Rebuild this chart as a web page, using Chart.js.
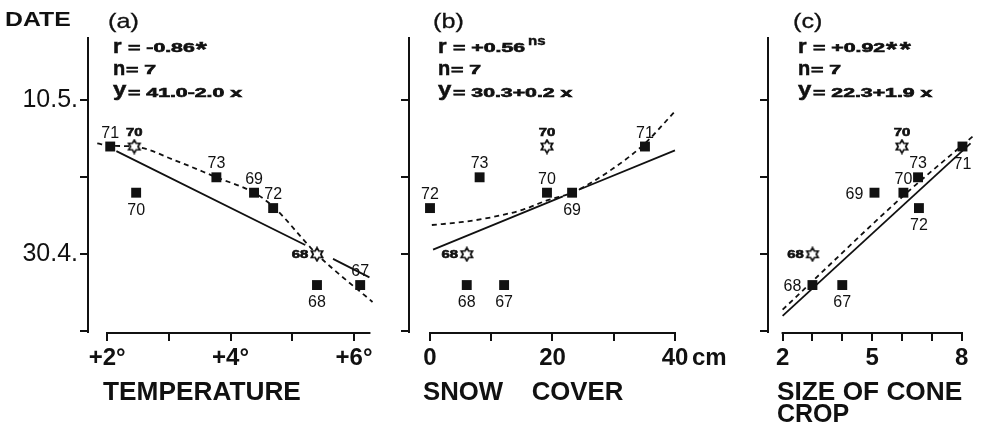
<!DOCTYPE html>
<html>
<head>
<meta charset="utf-8">
<script src="https://cdn.jsdelivr.net/npm/chart.js@4.4.1/dist/chart.umd.min.js"></script>
<style>
  html, body { margin: 0; padding: 0; background: #fff; }
  #wrap { position: relative; width: 984px; height: 428px; background: #fff; }
  #wrap canvas { position: absolute; left: 0; top: 0; }
</style>
</head>
<body>
<div id="wrap">
  <canvas id="chartA" width="984" height="428"></canvas>
  <canvas id="chartB" width="984" height="428"></canvas>
  <canvas id="chartC" width="984" height="428"></canvas>
</div>
<script>
// --- datos: fecha en días desde el 1 de abril (30.4. = 30, 10.5. = 40) ---
const dateTicks = [25, 30, 35, 40];
const dateTickLabels = ['', '30.4.', '', '10.5.'];

// (a) temperatura
const tempYears = ['71', '70', '73', '69', '72', '68', '67'];
const tempX = [2.05, 2.47, 3.77, 4.38, 4.69, 5.40, 6.10];
const tempDate = [37, 34, 35, 34, 33, 28, 28];
const tempSide = ['above', 'below', 'above', 'above', 'above', 'below', 'above'];
const tempStarYears = ['70', '68'];
const tempStarX = [2.44, 5.40];
const tempStarDate = [37, 30];
const tempStarSide = ['above', 'left'];
const tempFitX = [2.15, 5.21, 5.43, 5.66, 6.25];
const tempFitDate = [36.7, 30.6, null, 29.7, 28.5];
const tempCurveX = [1.84, 2.05, 2.44, 3.1, 3.77, 4.38, 4.69, 5.4, 6.3];
const tempCurveDate = [37.2, 37.05, 37.0, 36.1, 35.0, 34.0, 33.1, 30.0, 26.9];
const tempTicks = [2, 3, 4, 5, 6];
const tempTickLabels = ['+2°', '', '+4°', '', '+6°'];

// (b) nieve
const snowYears = ['72', '73', '70', '69', '71', '68', '67'];
const snowX = [0, 8.1, 19.1, 23.2, 35.1, 6.0, 12.1];
const snowDate = [33, 35, 34, 34, 37, 28, 28];
const snowSide = ['above', 'above', 'above', 'below', 'above', 'below', 'below'];
const snowStarYears = ['70', '68'];
const snowStarX = [19.1, 6.0];
const snowStarDate = [37, 30];
const snowStarSide = ['above', 'left'];
const snowFitX = [0.5, 21.7, 23.0, 24.3, 40];
const snowFitDate = [30.3, 33.76, null, 34.19, 36.75];
const snowCurveX = [0.3, 5.4, 10, 15.2, 19.1, 23.2, 30, 35.1, 39.8];
const snowCurveDate = [31.9, 32.1, 32.4, 32.9, 33.5, 34.0, 35.6, 37.2, 39.2];
const snowTicks = [0, 10, 20, 30, 40];
const snowTickLabels = ['0', '', '20', '', '40'];

// (c) cosecha de conos
const coneYears = ['71', '73', '70', '69', '72', '68', '67'];
const coneX = [8.03, 6.54, 6.05, 5.08, 6.57, 3.0, 4.0];
const coneDate = [37, 35, 34, 34, 33, 28, 28];
const coneSide = ['below', 'above', 'above', 'left', 'below', 'left', 'below'];
const coneStarYears = ['70', '68'];
const coneStarX = [6.0, 3.0];
const coneStarDate = [37, 30];
const coneStarSide = ['above', 'left'];
const coneFitX = [2.0, 8.3];
const coneFitDate = [26.0, 37.2];
const coneCurveX = [2.0, 6.05, 8.4];
const coneCurveDate = [26.4, 33.8, 37.7];
const coneTicks = [2, 3, 4, 5, 6, 7, 8];
const coneTickLabels = ['2', '', '', '5', '', '', '8'];

// textos de cabecera
const panelTags = ['(a)', '(b)', '(c)'];
const corrR = ['-0.86', '+0.56', '+0.92'];
const corrSig = ['*', 'ns', '**'];
const sampleN = ['7', '7', '7'];
const fitEq = ['41.0-2.0 x', '30.3+0.2 x', '22.3+1.9 x'];

const FONT = "'Liberation Sans', Arial, Helvetica, sans-serif";
const INK = '#111';
Chart.defaults.font.family = FONT;
Chart.defaults.color = INK;

function pts(xs, ys) {
    return xs.map((x, i) => ({ x: x, y: ys[i] }));
}

// texto con estiramiento horizontal (la tipografía original es muy ancha)
function wideText(ctx, text, x, y, font, sx, align, heavy) {
    ctx.save();
    ctx.font = font;
    ctx.fillStyle = INK;
    ctx.strokeStyle = INK;
    ctx.textBaseline = 'alphabetic';
    ctx.textAlign = align || 'left';
    ctx.translate(x, y);
    ctx.scale(sx, 1);
    ctx.fillText(text, 0, 0);
    if (heavy) {
        ctx.lineWidth = heavy;
        ctx.strokeText(text, 0, 0);
    }
    const w = ctx.measureText(text).width * sx;
    ctx.restore();
    return w;
}

// estrella de seis puntas hueca
function makeStar() {
    const c = document.createElement('canvas');
    c.width = 16; c.height = 16;
    const g = c.getContext('2d');
    g.beginPath();
    for (let k = 0; k < 12; k++) {
        const r = k % 2 === 0 ? 6.5 : 3.75;
        const a = -Math.PI / 2 + k * Math.PI / 6;
        const px = 8 + r * Math.cos(a), py = 8 + r * Math.sin(a);
        if (k === 0) g.moveTo(px, py); else g.lineTo(px, py);
    }
    g.closePath();
    g.fillStyle = '#fff';
    g.fill();
    g.lineWidth = 1.7;
    g.strokeStyle = INK;
    g.stroke();
    return c;
}
const starImg = makeStar();

// etiquetas de año junto a cada punto
const yearLabelPlugin = {
    id: 'yearLabels',
    afterDatasetsDraw(chart) {
        const ctx = chart.ctx;
        chart.data.datasets.forEach((ds, i) => {
            if (!ds.years) return;
            const meta = chart.getDatasetMeta(i);
            meta.data.forEach((el, j) => {
                const side = ds.sides[j];
                let dx = 0, dy = 0;
                if (side === 'above') dy = -15;
                if (side === 'below') dy = 16;
                if (side === 'left') dx = ds.isStar ? -17 : -20;
                if (ds.isStar) {
                    wideText(ctx, ds.years[j], el.x + dx, el.y + dy + 4, 'bold 11px ' + FONT, 1.35, 'center', 0.6);
                } else {
                    wideText(ctx, ds.years[j], el.x + dx, el.y + dy + 6, '16px ' + FONT, 1.0, 'center');
                }
            });
        });
    }
};

// eje x que empieza en el primer tick, cabecera y títulos
const panelPlugin = {
    id: 'panelText',
    afterDraw(chart, args, o) {
        const ctx = chart.ctx;
        const xs = chart.scales.x;
        const area = chart.chartArea;
        ctx.save();
        ctx.strokeStyle = INK;
        ctx.lineWidth = 2;
        ctx.beginPath();
        ctx.moveTo(xs.getPixelForValue(o.axisFrom) - 1, area.bottom + 1);
        ctx.lineTo(xs.getPixelForValue(o.axisTo) + 1, area.bottom + 1);
        ctx.stroke();
        ctx.restore();

        const i = o.index;
        const hx = area.left + o.headX;
        wideText(ctx, panelTags[i], hx - 5, 28, '21px ' + FONT, 1.2, 'left', 0.3);
        // r
        wideText(ctx, 'r', hx, 53, 'bold 20px ' + FONT, 1.1, 'left', 0.5);
        let w = wideText(ctx, '= ' + corrR[i], hx + 15, 52, 'bold 12.5px ' + FONT, 1.7, 'left', 0.6);
        if (corrSig[i] === 'ns') {
            wideText(ctx, 'ns', hx + 15 + w + 3, 45, 'bold 12px ' + FONT, 1.25, 'left', 0.4);
        } else {
            ctx.save();
            ctx.letterSpacing = '2px';
            wideText(ctx, corrSig[i], hx + 15 + w + 1, 56, 'bold 21px ' + FONT, 1.35, 'left', 0.6);
            ctx.restore();
        }
        // n
        wideText(ctx, 'n', hx, 75, 'bold 20px ' + FONT, 1.0, 'left', 0.5);
        wideText(ctx, '= ' + sampleN[i], hx + 13, 74, 'bold 12.5px ' + FONT, 1.7, 'left', 0.6);
        // y
        wideText(ctx, 'y', hx, 96, 'bold 20px ' + FONT, 1.2, 'left', 0.5);
        wideText(ctx, '= ' + fitEq[i], hx + 15, 97, 'bold 12.5px ' + FONT, 1.7, 'left', 0.6);

        o.titles.forEach(t => wideText(ctx, t.text, t.x, t.y, t.font, t.sx));
        if (o.unit) {
            wideText(ctx, o.unit, xs.getPixelForValue(o.unitAt) + 17, 365, 'bold 24px ' + FONT, 1.0);
        }
    }
};

function makePanel(id, cfg) {
    const datasets = [
        {
            data: pts(cfg.px, cfg.py),
            years: cfg.years, sides: cfg.sides,
            pointStyle: 'rect', pointRadius: 7, pointBackgroundColor: INK, pointBorderWidth: 0,
            showLine: false
        },
        {
            data: pts(cfg.sx, cfg.sy),
            years: cfg.starYears, sides: cfg.starSides, isStar: true,
            pointStyle: starImg, pointRadius: 8,
            showLine: false
        },
        {
            data: pts(cfg.fx, cfg.fy),
            showLine: true, pointRadius: 0, borderColor: INK, borderWidth: 1.8,
            spanGaps: false
        },
        {
            data: pts(cfg.cx, cfg.cy),
            showLine: true, pointRadius: 0, borderColor: INK, borderWidth: 1.8,
            borderDash: [5, 4], cubicInterpolationMode: 'monotone'
        }
    ];
    return new Chart(document.getElementById(id), {
        type: 'scatter',
        data: { datasets: datasets },
        options: {
            responsive: false,
            animation: false,
            events: [],
            layout: { padding: { left: cfg.left - cfg.yW, right: 984 - cfg.right, top: 38, bottom: 0 } },
            plugins: {
                legend: { display: false },
                tooltip: { enabled: false },
                panelText: cfg.text
            },
            scales: {
                x: {
                    type: 'linear', min: cfg.xMin, max: cfg.xMax,
                    afterBuildTicks: s => { s.ticks = cfg.xTicks.map(v => ({ value: v })); },
                    afterFit: s => { s.height = 96; },
                    ticks: {
                        callback: (v, i) => cfg.xTickLabels[i],
                        autoSkip: false, maxRotation: 0, padding: 3,
                        font: { size: 24, weight: 'bold' }, color: INK
                    },
                    grid: { drawOnChartArea: false, tickLength: 9, color: INK, lineWidth: 2 },
                    border: { display: false }
                },
                y: {
                    type: 'linear', min: 24.95, max: 44.05,
                    afterBuildTicks: s => { s.ticks = dateTicks.map(v => ({ value: v })); },
                    afterFit: s => { s.width = cfg.yW; },
                    ticks: {
                        callback: (v, i) => cfg.yLabels ? dateTickLabels[i] : '',
                        padding: 2, font: { size: 25 }, color: INK
                    },
                    grid: { drawOnChartArea: false, tickLength: 8, color: INK, lineWidth: 2 },
                    border: { display: true, color: INK, width: 2 }
                }
            }
        },
        plugins: [yearLabelPlugin, panelPlugin]
    });
}

makePanel('chartA', {
    left: 88, right: 375, yW: 88, yLabels: true, xMin: 1.69, xMax: 6.34,
    xTicks: tempTicks, xTickLabels: tempTickLabels,
    px: tempX, py: tempDate, years: tempYears, sides: tempSide,
    sx: tempStarX, sy: tempStarDate, starYears: tempStarYears, starSides: tempStarSide,
    fx: tempFitX, fy: tempFitDate, cx: tempCurveX, cy: tempCurveDate,
    text: {
        index: 0, headX: 25, axisFrom: 2, axisTo: 6.25,
        titles: [
            { text: 'DATE', x: 5, y: 26, font: 'bold 20px ' + FONT, sx: 1.24 },
            { text: 'TEMPERATURE', x: 103, y: 400, font: 'bold 25px ' + FONT, sx: 1.05 }
        ]
    }
});

makePanel('chartB', {
    left: 409, right: 680, yW: 20, yLabels: false, xMin: -3.43, xMax: 40.82,
    xTicks: snowTicks, xTickLabels: snowTickLabels,
    px: snowX, py: snowDate, years: snowYears, sides: snowSide,
    sx: snowStarX, sy: snowStarDate, starYears: snowStarYears, starSides: snowStarSide,
    fx: snowFitX, fy: snowFitDate, cx: snowCurveX, cy: snowCurveDate,
    text: {
        index: 1, headX: 29, axisFrom: 0, axisTo: 40, unit: 'cm', unitAt: 40,
        titles: [
            { text: 'SNOW    COVER', x: 423, y: 400, font: 'bold 25px ' + FONT, sx: 1.03 }
        ]
    }
});

makePanel('chartC', {
    left: 768, right: 982, yW: 20, yLabels: false, xMin: 1.51, xMax: 8.45,
    xTicks: coneTicks, xTickLabels: coneTickLabels,
    px: coneX, py: coneDate, years: coneYears, sides: coneSide,
    sx: coneStarX, sy: coneStarDate, starYears: coneStarYears, starSides: coneStarSide,
    fx: coneFitX, fy: coneFitDate, cx: coneCurveX, cy: coneCurveDate,
    text: {
        index: 2, headX: 30, axisFrom: 2, axisTo: 8,
        titles: [
            { text: 'SIZE OF CONE', x: 777, y: 400, font: 'bold 25px ' + FONT, sx: 1.05 },
            { text: 'CROP', x: 777, y: 422, font: 'bold 25px ' + FONT, sx: 1.0 }
        ]
    }
});
</script>
</body>
</html>
